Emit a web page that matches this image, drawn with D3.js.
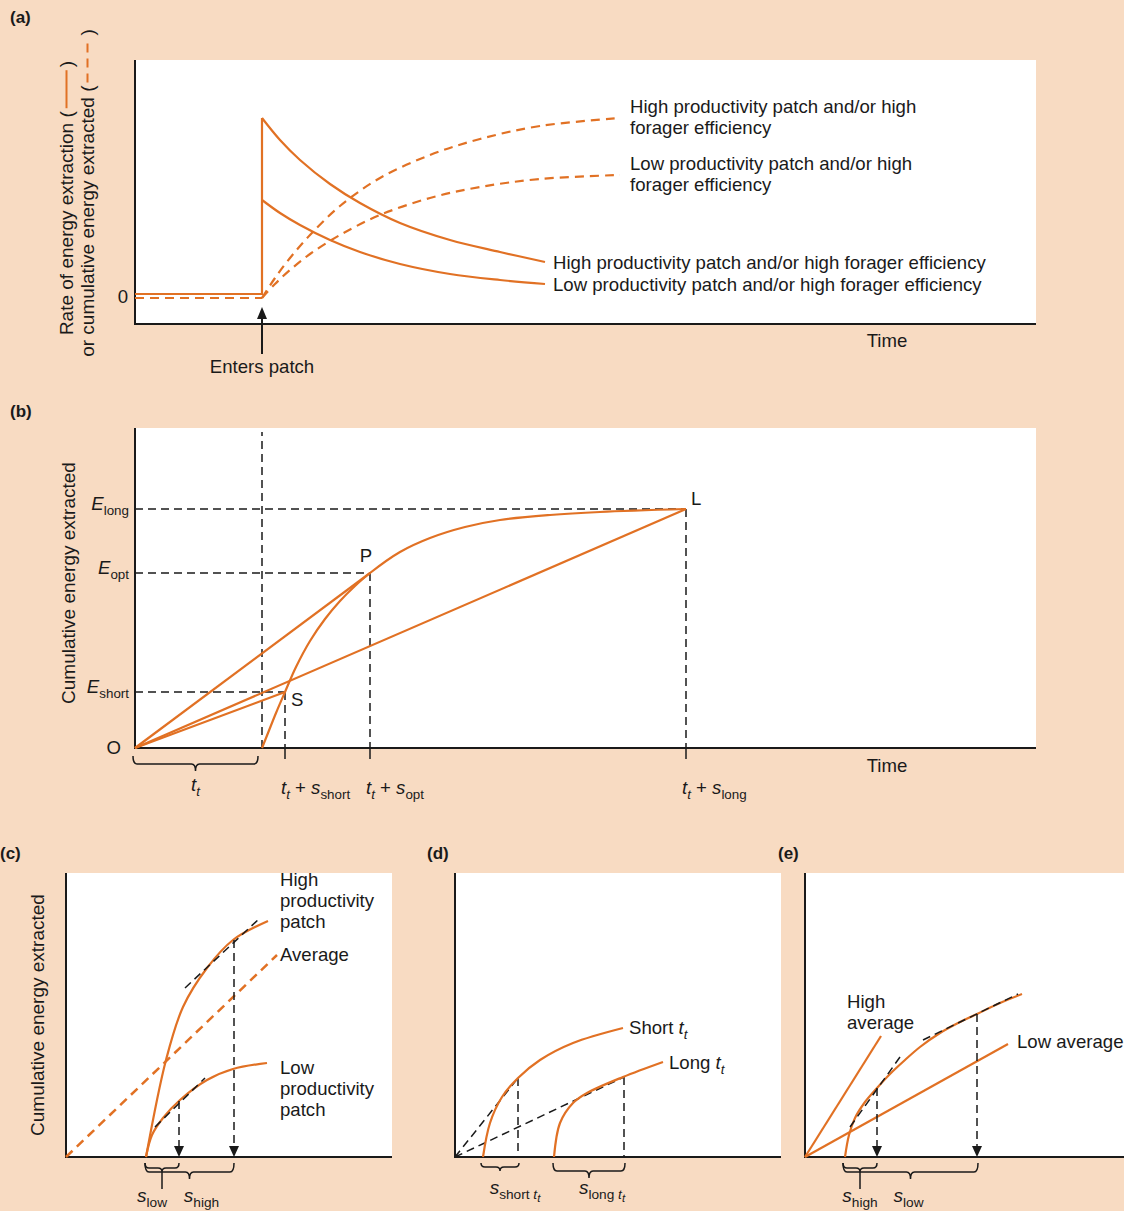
<!DOCTYPE html>
<html><head><meta charset="utf-8">
<script src="https://cdn.jsdelivr.net/npm/d3@7"></script>
<style>
html,body{margin:0;padding:0;background:#F8DBC2;}
svg{display:block;font-family:"Liberation Sans",Arial,Helvetica,sans-serif;}
text{white-space:pre;}
</style></head><body>
<svg id="chart" width="1124" height="1211"></svg>
<script>
// ---------------- DATA (abstract units) ----------------
// Panel (a): rate of extraction (solid) and cumulative energy (dashed)
const aEnterTime = 12.7;
const aBaselineRate = 3.0;
const aBaselineCum = 2.6;
const aZeroLevel = 2.7;
const aRateTime = [12.7, 14.5, 16.5, 19.5, 22.5, 26.5, 31.5, 36.5, 41.0];
const aRateHigh = [20.6, 18.4, 16.4, 14.0, 12.1, 10.1, 8.4, 7.2, 6.2];
const aRateLow  = [12.4, 11.1, 9.9, 8.4, 7.2, 6.0, 5.0, 4.4, 4.0];
const aCumTime  = [12.7, 14.0, 15.5, 17.5, 20.5, 24.5, 29.5, 34.5, 40.5, 48.5];
const aCumHigh  = [2.6, 4.6, 6.6, 8.9, 11.8, 14.6, 16.9, 18.5, 19.8, 20.6];
const aCumLow   = [2.6, 4.0, 5.4, 7.0, 8.9, 10.9, 12.6, 13.7, 14.5, 14.9];
const aCumLabels  = [["High productivity patch and/or high", "forager efficiency"],
                     ["Low productivity patch and/or high", "forager efficiency"]];
const aRateLabels = ["High productivity patch and/or high forager efficiency",
                     "Low productivity patch and/or high forager efficiency"];

// Panel (b): marginal value theorem
const bTravelTime = 12.7;
const bGainTime   = [12.7, 13.3, 14.1, 15.0, 16.1, 17.5, 19.0, 20.5, 22.0, 23.5, 26.5, 29.5, 33.0, 36.5, 41.5, 46.5, 55.1];
const bGainEnergy = [0, 1.5, 3.5, 5.6, 8.1, 10.7, 12.9, 14.7, 16.2, 17.5, 19.6, 21.0, 22.1, 22.8, 23.3, 23.6, 23.9];
const bPointNames  = ["S", "P", "L"];
const bPointKeys   = ["short", "opt", "long"];
const bPointTime   = [15.0, 23.5, 55.1];
const bPointEnergy = [5.6, 17.5, 23.9];

// Panel (c): high vs low productivity patches
const cHighTime   = [8.0, 10.0, 11.7, 14.1, 16.7, 20.2];
const cHighEnergy = [0, 9.7, 15.0, 18.9, 21.7, 23.6];
const cLowTime    = [8.0, 8.6, 9.7, 11.4, 14.1, 16.7, 20.1];
const cLowEnergy  = [0, 2.2, 3.9, 5.7, 7.7, 8.8, 9.4];
const cAverageTime   = [0, 21.1];
const cAverageEnergy = [0, 20.2];
const cHighTangentTime = [11.9, 19.4], cHighTangentEnergy = [16.9, 23.9];
const cLowTangentTime  = [8.9, 13.9],  cLowTangentEnergy  = [3.0, 7.9];
const cStayTime   = [11.3, 16.8];   // low, high
const cStayEnergy = [5.6, 21.7];

// Panel (d): short vs long travel time
const dShortTime   = [2.8, 3.5, 4.7, 6.3, 8.5, 11.8, 16.8];
const dShortEnergy = [0, 3.4, 6.0, 7.9, 9.7, 11.4, 12.9];
const dLongTime    = [9.9, 10.5, 11.8, 13.2, 16.8, 20.8];
const dLongEnergy  = [0, 3.4, 5.4, 6.4, 8.0, 9.5];
const dStayTime    = [6.3, 16.9];
const dStayEnergy  = [7.9, 8.0];

// Panel (e): high vs low average environment
const eGainTime   = [4.0, 4.4, 5.0, 6.0, 7.2, 8.5, 10.0, 11.5, 13.5, 15.5, 17.2, 19.5, 21.7];
const eGainEnergy = [0, 2.2, 3.9, 5.5, 6.9, 8.3, 9.7, 11.0, 12.4, 13.5, 14.3, 15.4, 16.3];
const eHighAvgTime = [0, 7.6],  eHighAvgEnergy = [0, 12.1];
const eLowAvgTime  = [0, 20.3], eLowAvgEnergy  = [0, 11.3];
const eTangent1Time = [4.5, 9.5],   eTangent1Energy = [3.0, 10.0];
const eTangent2Time = [11.8, 21.3], eTangent2Energy = [11.7, 16.3];
const eStayTime   = [7.2, 17.2];
const eStayEnergy = [6.9, 14.3];

// ---------------- STYLE ----------------
const ORANGE = "#E17124", PEACH = "#F8DBC2", INK = "#1a1a1a";
const FS = 18.6;

const svg = d3.select("#chart");
svg.append("rect").attr("width", 1124).attr("height", 1211).attr("fill", PEACH);

const zip = (a, b) => a.map((v, i) => [v, b[i]]);
function frame(xs, ys) {
  const [x0, x1] = xs.range(), [y0, y1] = ys.range();
  svg.append("rect").attr("x", x0).attr("y", y1).attr("width", x1 - x0).attr("height", y0 - y1).attr("fill", "#fff");
}
function axes(xs, ys) {
  const [x0, x1] = xs.range(), [y0, y1] = ys.range();
  svg.append("path").attr("d", `M${x0},${y1}V${y0}H${x1}`).attr("fill", "none").attr("stroke", INK).attr("stroke-width", 2);
}
function path(pts, xs, ys, o = {}) {
  const gen = d3.line().x(d => xs(d[0])).y(d => ys(d[1])).curve(o.curve || d3.curveLinear);
  return svg.append("path").attr("d", gen(pts)).attr("fill", "none")
    .attr("stroke", o.color || ORANGE).attr("stroke-width", o.w || 2.2)
    .attr("stroke-dasharray", o.dash || null).attr("stroke-linecap", "butt");
}
const smooth = d3.curveCatmullRom.alpha(0.5);
const blackDash = { color: INK, w: 1.5, dash: "8,5" };

function text(x, y, str, o = {}) {
  return svg.append("text").attr("x", x).attr("y", y).attr("font-size", o.size || FS)
    .attr("text-anchor", o.anchor || "start").attr("fill", INK)
    .attr("font-weight", o.bold ? "bold" : null).text(str);
}
function rich(x, y, parts, anchor = "start", size = FS) {
  const t = svg.append("text").attr("x", x).attr("y", y).attr("text-anchor", anchor)
    .attr("font-size", size).attr("fill", INK);
  let cur = 0;
  parts.forEach(p => {
    const lvl = p.s || 0;
    const shift = [0, 5, 8][lvl];
    const ts = t.append("tspan").text(p.t);
    if (shift !== cur) { ts.attr("dy", shift - cur); cur = shift; }
    if (p.i) ts.attr("font-style", "italic");
    if (lvl) ts.attr("font-size", size * [1, 0.72, 0.6][lvl]);
  });
  return t;
}
function vlabel(x, yc, str, size = 19) {
  svg.append("text").attr("transform", `translate(${x},${yc}) rotate(-90)`)
    .attr("text-anchor", "middle").attr("font-size", size).attr("fill", INK).text(str);
}
function brace(x1, x2, yTop, yLine, yTip, stemTo) {
  const xm = (x1 + x2) / 2, r = 4;
  let d = `M${x1},${yTop}Q${x1},${yLine} ${x1 + r},${yLine}L${xm - r},${yLine}Q${xm},${yLine} ${xm},${yTip}` +
          `Q${xm},${yLine} ${xm + r},${yLine}L${x2 - r},${yLine}Q${x2},${yLine} ${x2},${yTop}`;
  if (stemTo) d += `M${xm},${yTip}V${stemTo}`;
  svg.append("path").attr("d", d).attr("fill", "none").attr("stroke", INK).attr("stroke-width", 1.5);
  return xm;
}
function arrowDown(xs, ys, t, e) {
  const x = xs(t), y1 = ys(e), y2 = ys(0);
  svg.append("line").attr("x1", x).attr("x2", x).attr("y1", y1).attr("y2", y2 - 9)
    .attr("stroke", INK).attr("stroke-width", 1.5).attr("stroke-dasharray", "8,5");
  svg.append("path").attr("d", `M${x - 5},${y2 - 11}L${x + 5},${y2 - 11}L${x},${y2}Z`).attr("fill", INK);
}

// ---------------- PANEL (a) ----------------
const xa = d3.scaleLinear().domain([0, 90.1]).range([135, 1036]);
const ya = d3.scaleLinear().domain([0, 26.4]).range([324, 60]);
frame(xa, ya);
axes(xa, ya);
text(10, 23, "(a)", { bold: true, size: 17 });

path([[0, aBaselineCum], [aEnterTime, aBaselineCum]], xa, ya, { dash: "9,6" });
path(zip(aCumTime, aCumHigh), xa, ya, { dash: "9,6", curve: smooth });
path(zip(aCumTime, aCumLow), xa, ya, { dash: "9,6", curve: smooth });
path([[0, aBaselineRate], [aEnterTime, aBaselineRate], [aEnterTime, aRateHigh[0]]], xa, ya);
path(zip(aRateTime, aRateHigh), xa, ya, { curve: smooth });
path(zip(aRateTime, aRateLow), xa, ya, { curve: smooth });

[aCumHigh, aCumLow].forEach((arr, i) => {
  const ex = xa(aCumTime[aCumTime.length - 1]) + 10, ey = ya(arr[arr.length - 1]);
  text(ex, ey - 5, aCumLabels[i][0]);
  text(ex, ey + 16, aCumLabels[i][1]);
});
[aRateHigh, aRateLow].forEach((arr, i) => {
  const ex = xa(aRateTime[aRateTime.length - 1]) + 8, ey = ya(arr[arr.length - 1]);
  text(ex, ey + 7, aRateLabels[i]);
});
text(128, ya(aZeroLevel) + 6, "0", { anchor: "end" });
text(887, 347, "Time", { anchor: "middle" });
// enters patch arrow
{
  const x = xa(aEnterTime);
  svg.append("line").attr("x1", x).attr("x2", x).attr("y1", 354).attr("y2", 316).attr("stroke", INK).attr("stroke-width", 2);
  svg.append("path").attr("d", `M${x - 5},${319}L${x + 5},${319}L${x},${307}Z`).attr("fill", INK);
  text(x, 373, "Enters patch", { anchor: "middle" });
}
// axis title with line-style keys
function keyedLabel(x, yc, before, dashed) {
  const g = svg.append("g").attr("transform", `translate(${x},${yc}) rotate(-90)`);
  const m1 = g.append("text").attr("font-size", 19).text(before);
  const w1 = m1.node().getComputedTextLength();
  const m2 = g.append("text").attr("font-size", 19).text(")");
  const w2 = m2.node().getComputedTextLength();
  const gap = dashed ? 50 : 44;
  const total = w1 + gap + w2, s = -total / 2;
  m1.attr("x", s).attr("fill", INK);
  m2.attr("x", s + w1 + gap).attr("fill", INK);
  g.append("line").attr("x1", s + w1 + 3).attr("x2", s + w1 + gap - 3).attr("y1", -6.5).attr("y2", -6.5)
    .attr("stroke", ORANGE).attr("stroke-width", 2).attr("stroke-dasharray", dashed ? "9,6" : null);
}
keyedLabel(73, 198, "Rate of energy extraction (", false);
keyedLabel(94, 193, "or cumulative energy extracted (", true);

// ---------------- PANEL (b) ----------------
const xb = d3.scaleLinear().domain([0, 90.1]).range([135, 1036]);
const yb = d3.scaleLinear().domain([0, 32]).range([748, 428]);
frame(xb, yb);
text(10, 417, "(b)", { bold: true, size: 17 });
path([[bTravelTime, 0], [bTravelTime, 31.6]], xb, yb, blackDash);
bPointTime.forEach((t, i) => {
  const e = bPointEnergy[i];
  path([[0, e], [t, e]], xb, yb, blackDash);
  path([[t, e], [t, 0]], xb, yb, blackDash);
});
axes(xb, yb);
bPointTime.forEach((t, i) => {
  svg.append("line").attr("x1", xb(t)).attr("x2", xb(t)).attr("y1", yb(0)).attr("y2", yb(0) + 11)
    .attr("stroke", INK).attr("stroke-width", 1.5);
  path([[0, 0], [t, bPointEnergy[i]]], xb, yb);
});
path(zip(bGainTime, bGainEnergy), xb, yb, { curve: smooth });

// point letters
text(xb(bPointTime[2]) + 5, yb(bPointEnergy[2]) - 4, bPointNames[2]);
text(xb(bPointTime[1]) - 4, yb(bPointEnergy[1]) - 11, bPointNames[1], { anchor: "middle" });
text(xb(bPointTime[0]) + 6, yb(bPointEnergy[0]) + 14, bPointNames[0]);
text(121, 754, "O", { anchor: "end" });
bPointTime.forEach((t, i) => {
  rich(129, yb(bPointEnergy[i]) + 1, [{ t: "E", i: 1 }, { t: bPointKeys[i], s: 1 }], "end");
  rich(xb(t) - 4, 794, [{ t: "t", i: 1 }, { t: "t", i: 1, s: 1 }, { t: " + " }, { t: "s", i: 1 }, { t: bPointKeys[i], s: 1 }]);
});
{
  const xm = brace(xb(0) - 2, xb(bTravelTime) - 4, 756, 764, 771);
  rich(xm, 791, [{ t: "t", i: 1 }, { t: "t", i: 1, s: 1 }], "middle");
}
text(887, 772, "Time", { anchor: "middle" });
vlabel(75, 583, "Cumulative energy extracted");

// ---------------- PANEL (c) ----------------
const xc = d3.scaleLinear().domain([0, 32.6]).range([66, 392]);
const yc = d3.scaleLinear().domain([0, 28.4]).range([1157, 873]);
frame(xc, yc);
axes(xc, yc);
text(0, 859, "(c)", { bold: true, size: 17 });
vlabel(44, 1015, "Cumulative energy extracted");
path(zip(cAverageTime, cAverageEnergy), xc, yc, { dash: "9,6", w: 2.5 });
path(zip(cHighTime, cHighEnergy), xc, yc, { curve: smooth });
path(zip(cLowTime, cLowEnergy), xc, yc, { curve: smooth });
path(zip(cHighTangentTime, cHighTangentEnergy), xc, yc, blackDash);
path(zip(cLowTangentTime, cLowTangentEnergy), xc, yc, blackDash);
cStayTime.forEach((t, i) => arrowDown(xc, yc, t, cStayEnergy[i]));
{
  const lx = xc(cHighTime[cHighTime.length - 1]) + 12;
  ["High", "productivity", "patch"].forEach((s, i) => text(lx, 886 + 21 * i, s));
  text(lx, 961, "Average");
  ["Low", "productivity", "patch"].forEach((s, i) => text(lx, 1074 + 21 * i, s));
  const x0 = xc(cHighTime[0]) - 1;
  const m1 = brace(x0, xc(cStayTime[0]), 1163, 1168, 1172, 1189);
  const m2 = brace(x0, xc(cStayTime[1]), 1163, 1172, 1179);
  rich(m1 - 10, 1202, [{ t: "s", i: 1 }, { t: "low", s: 1 }], "middle", 19);
  rich(m2 + 12, 1202, [{ t: "s", i: 1 }, { t: "high", s: 1 }], "middle", 19);
}

// ---------------- PANEL (d) ----------------
const xd = d3.scaleLinear().domain([0, 32.6]).range([455, 781]);
const yd = d3.scaleLinear().domain([0, 28.4]).range([1157, 873]);
frame(xd, yd);
axes(xd, yd);
text(427, 859, "(d)", { bold: true, size: 17 });
dStayTime.forEach((t, i) => {
  path([[0, 0], [t, dStayEnergy[i]]], xd, yd, blackDash);
  path([[t, dStayEnergy[i]], [t, 0]], xd, yd, blackDash);
});
path(zip(dShortTime, dShortEnergy), xd, yd, { curve: smooth });
path(zip(dLongTime, dLongEnergy), xd, yd, { curve: smooth });
rich(xd(dShortTime[dShortTime.length - 1]) + 6, yd(dShortEnergy[dShortEnergy.length - 1]) + 6,
  [{ t: "Short " }, { t: "t", i: 1 }, { t: "t", i: 1, s: 1 }]);
rich(xd(dLongTime[dLongTime.length - 1]) + 6, yd(dLongEnergy[dLongEnergy.length - 1]) + 7,
  [{ t: "Long " }, { t: "t", i: 1 }, { t: "t", i: 1, s: 1 }]);
{
  const m1 = brace(xd(dShortTime[0]) - 2, xd(dStayTime[0]) + 1, 1163, 1167, 1171);
  const m2 = brace(xd(dLongTime[0]) - 1, xd(dStayTime[1]) + 1, 1163, 1171, 1178);
  rich(m1 + 15, 1194, [{ t: "s", i: 1 }, { t: "short ", s: 1 }, { t: "t", i: 1, s: 1 }, { t: "t", i: 1, s: 2 }], "middle", 19);
  rich(m2 + 13, 1194, [{ t: "s", i: 1 }, { t: "long ", s: 1 }, { t: "t", i: 1, s: 1 }, { t: "t", i: 1, s: 2 }], "middle", 19);
}

// ---------------- PANEL (e) ----------------
const xe = d3.scaleLinear().domain([0, 31.9]).range([805, 1124]);
const ye = d3.scaleLinear().domain([0, 28.4]).range([1157, 873]);
frame(xe, ye);
axes(xe, ye);
text(778, 859, "(e)", { bold: true, size: 17 });
path(zip(eHighAvgTime, eHighAvgEnergy), xe, ye);
path(zip(eLowAvgTime, eLowAvgEnergy), xe, ye);
path(zip(eGainTime, eGainEnergy), xe, ye, { curve: smooth });
path(zip(eTangent1Time, eTangent1Energy), xe, ye, blackDash);
path(zip(eTangent2Time, eTangent2Energy), xe, ye, blackDash);
eStayTime.forEach((t, i) => arrowDown(xe, ye, t, eStayEnergy[i]));
text(847, 1008, "High");
text(847, 1029, "average");
text(xe(eLowAvgTime[1]) + 9, ye(eLowAvgEnergy[1]) + 4, "Low average");
{
  const x0 = xe(eGainTime[0]) - 2;
  const m1 = brace(x0, xe(eStayTime[0]), 1163, 1168, 1172, 1189);
  const m2 = brace(x0, xe(eStayTime[1]) + 1, 1163, 1172, 1179);
  rich(m1, 1202, [{ t: "s", i: 1 }, { t: "high", s: 1 }], "middle", 19);
  rich(m2 - 2, 1202, [{ t: "s", i: 1 }, { t: "low", s: 1 }], "middle", 19);
}
</script>
</body></html>
